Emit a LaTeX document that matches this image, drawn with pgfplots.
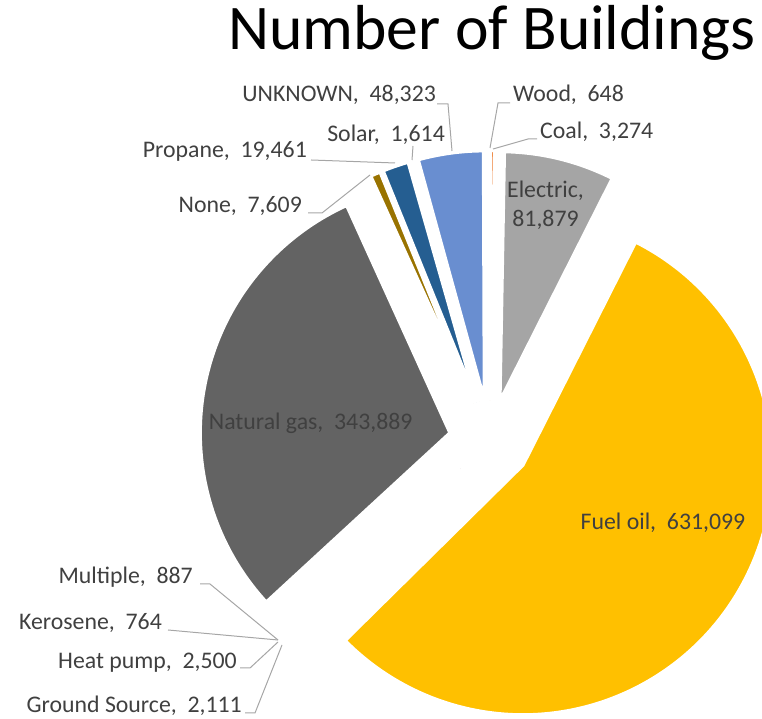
\documentclass[border=0pt]{standalone}
\usepackage{pgfplots}
\pgfplotsset{compat=1.18}
\usepackage{pgfplotstable}
\usepackage{fontspec}
\setmainfont{Carlito}

\definecolor{cCoal}{HTML}{ED7D31}
\definecolor{cElectric}{HTML}{A5A5A5}
\definecolor{cFuel}{HTML}{FFC000}
\definecolor{cGround}{HTML}{5B9BD5}
\definecolor{cHeat}{HTML}{70AD47}
\definecolor{cKero}{HTML}{264478}
\definecolor{cMulti}{HTML}{9E480E}
\definecolor{cGas}{HTML}{636363}
\definecolor{cNone}{HTML}{997300}
\definecolor{cPropane}{HTML}{255E91}
\definecolor{cSolar}{HTML}{43682B}
\definecolor{cUnknown}{HTML}{698ED0}
\definecolor{cWood}{HTML}{F1975A}
\definecolor{lbltext}{HTML}{404040}
\definecolor{leader}{HTML}{A6A6A6}

\tikzset{
  lbl/.style={font=\fontsize{23.8}{28}\selectfont, text=lbltext, inner sep=0pt},
  ld/.style={draw=leader, line width=1pt},
}

\pgfplotstableread[col sep=comma]{
name,value,color
Coal,3274,cCoal
Electric,81879,cElectric
Fuel oil,631099,cFuel
Ground Source,2111,cGround
Heat pump,2500,cHeat
Kerosene,764,cKero
Multiple,887,cMulti
Natural gas,343889,cGas
None,7609,cNone
Propane,19461,cPropane
Solar,1614,cSolar
UNKNOWN,48323,cUnknown
Wood,648,cWood
}\piedata

\begin{document}
\begin{tikzpicture}
\path[use as bounding box] (0,0) rectangle (762pt,719pt);
% totals and angles (clockwise from 12 o'clock)
\pgfplotstablegetrowsof{\piedata}
\pgfmathtruncatemacro\lastrow{\pgfplotsretval-1}
\gdef\pietotal{0}
\foreach \i in {0,...,\lastrow}{%
  \pgfplotstablegetelem{\i}{value}\of\piedata
  \xdef\pietotal{\fpeval{\pietotal+\pgfplotsretval}}%
}
\gdef\piecum{0}
\foreach \i in {0,...,\lastrow}{%
  \pgfplotstablegetelem{\i}{value}\of\piedata
  \expandafter\xdef\csname pa\i\endcsname{\fpeval{90-360*\piecum/\pietotal}}%
  \xdef\piecum{\fpeval{\piecum+\pgfplotsretval}}%
  \expandafter\xdef\csname pb\i\endcsname{\fpeval{90-360*\piecum/\pietotal}}%
  \expandafter\xdef\csname pm\i\endcsname{\fpeval{(\csname pa\i\endcsname+\csname pb\i\endcsname)/2}}%
  \expandafter\xdef\csname px\i\endcsname{\fpeval{490+40.7*cosd(\csname pm\i\endcsname)}}%
  \expandafter\xdef\csname py\i\endcsname{\fpeval{278+40.7*sind(\csname pm\i\endcsname)}}%
  \pgfplotstablegetelem{\i}{color}\of\piedata
  \expandafter\xdef\csname pc\i\endcsname{\pgfplotsretval}%
}
\begin{axis}[
  width=762pt, height=719pt, scale only axis,
  xmin=0, xmax=762, ymin=0, ymax=719,
  axis lines=none,
]
% slices: fills first, then white borders
\pgfplotsinvokeforeach{0,...,12}{
  \edef\temp{\noexpand\fill[\csname pc#1\endcsname] (axis cs:\csname px#1\endcsname,\csname py#1\endcsname) -- ++(\csname pa#1\endcsname:250pt) arc[start angle=\csname pa#1\endcsname, end angle=\csname pb#1\endcsname, radius=250pt] -- cycle;}
  \temp
}
\pgfplotsinvokeforeach{0,...,12}{
  \edef\temp{\noexpand\draw[white, line width=3.5pt, line join=miter] (axis cs:\csname px#1\endcsname,\csname py#1\endcsname) -- ++(\csname pa#1\endcsname:250pt) arc[start angle=\csname pa#1\endcsname, end angle=\csname pb#1\endcsname, radius=250pt] -- cycle;}
  \temp
}
% leader lines
\draw[ld] (axis cs:200,135) -- (axis cs:210,135) -- (axis cs:278,79);
\draw[ld] (axis cs:168,89) -- (axis cs:278,79);
\draw[ld] (axis cs:240,51) -- (axis cs:250,51) -- (axis cs:278,77);
\draw[ld] (axis cs:245,6) -- (axis cs:255,6) -- (axis cs:282,74);
\draw[ld] (axis cs:510,616) -- (axis cs:498,616) -- (axis cs:490,571);
\draw[ld] (axis cs:537,580) -- (axis cs:528,580) -- (axis cs:493,570);
\draw[ld] (axis cs:437,615) -- (axis cs:448,615) -- (axis cs:452,568);
\draw[ld] (axis cs:413,573) -- (axis cs:412,559);
\draw[ld] (axis cs:311,559) -- (axis cs:395,556);
\draw[ld] (axis cs:308,506) -- (axis cs:322,506) -- (axis cs:370,544);
% labels
\node[lbl, anchor=base east] at (axis cs:436,617.3) {UNKNOWN,\ \ 48,323};
\node[lbl, anchor=base west] at (axis cs:513,617.3) {Wood,\ \ 648};
\node[lbl, anchor=base east] at (axis cs:445,577.3) {Solar,\ \ 1,614};
\node[lbl, anchor=base west] at (axis cs:540,580.7) {Coal,\ \ 3,274};
\node[lbl, anchor=base east] at (axis cs:307,561) {Propane,\ \ 19,461};
\node[lbl, anchor=base east] at (axis cs:302,506) {None,\ \ 7,609};
\node[lbl, anchor=base] at (axis cs:545.5,521) {Electric,};
\node[lbl, anchor=base] at (axis cs:545.5,492) {81,879};
\node[lbl, anchor=base] at (axis cs:310.7,289) {Natural gas,\ \ 343,889};
\node[lbl, anchor=base] at (axis cs:663,189) {Fuel oil,\ \ 631,099};
\node[lbl, anchor=base east] at (axis cs:193,135) {Multiple,\ \ 887};
\node[lbl, anchor=base east] at (axis cs:162,89) {Kerosene,\ \ 764};
\node[lbl, anchor=base east] at (axis cs:237,50.7) {Heat pump,\ \ 2,500};
\node[lbl, anchor=base east] at (axis cs:242,6.5) {Ground Source,\ \ 2,111};
% title
\node[font=\fontsize{63.6}{64}\selectfont, text=black, inner sep=0pt, anchor=base west] at (axis cs:228,669) {Number of Buildings};
\end{axis}
\end{tikzpicture}
\end{document}
